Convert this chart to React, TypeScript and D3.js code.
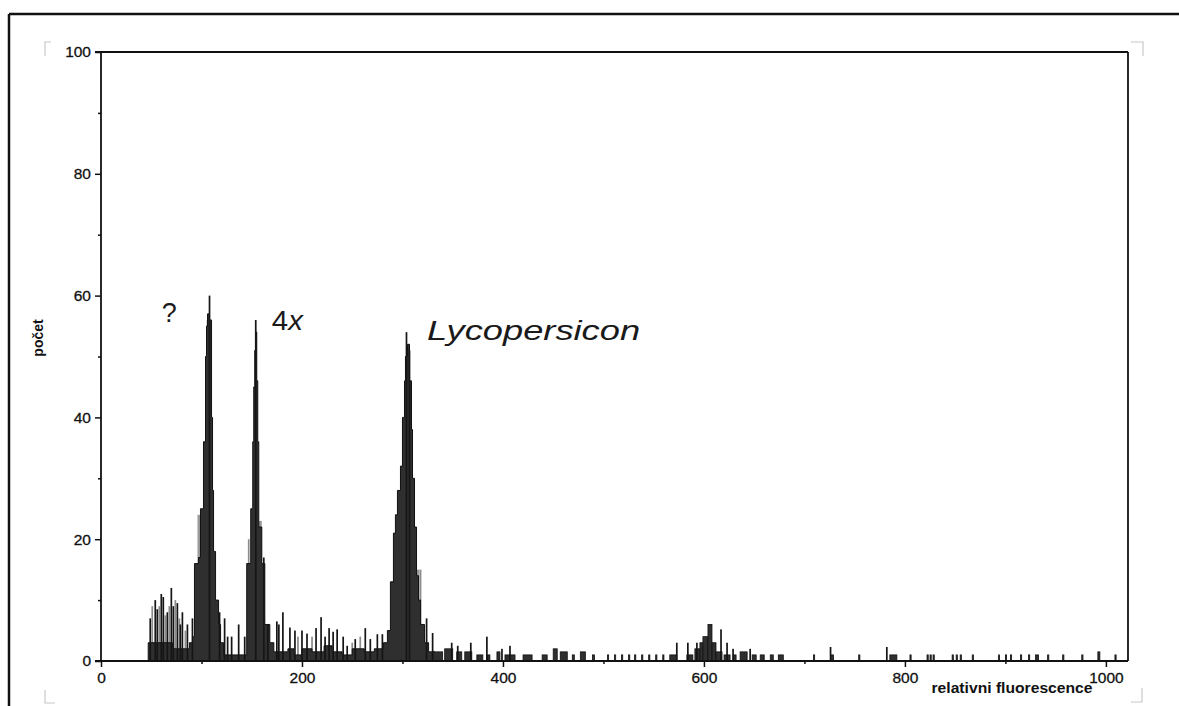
import React, { useEffect, useRef } from "react";
import * as d3 from "d3";

const W = 1179;
const H = 706;
const plot = { left: 101, right: 1128, top: 52, bottom: 661 };

const xTicks = [0, 200, 400, 600, 800, 1000];
const xMinorTicks = [100, 300, 500, 700, 900];
const yTicks = [0, 20, 40, 60, 80, 100];
const yMinorTicks = [10, 30, 50, 70, 90];

// filled histogram outline: [channel where the step starts, count]
const bodySteps: [number, number][] = [
  [47, 3], [71, 2], [88, 3], [91, 4], [93, 16], [97, 17], [99, 25], [102, 36],
  [104, 50], [105, 55], [106, 57], [108, 56], [110, 40], [111, 28], [112, 18],
  [114, 10], [117, 6], [119, 3], [122, 1],
  [145, 16], [149, 25], [151, 36], [152, 45], [153, 51], [154, 54], [155, 46],
  [156, 36], [157, 22], [160, 16], [163, 6], [168, 3], [172, 1.5], [186, 2],
  [192, 1], [200, 2], [210, 1.5], [222, 2.5], [230, 1.5], [240, 1], [250, 2],
  [262, 1.5], [272, 2],
  [281, 3], [285, 5], [288, 13], [291, 21], [293, 24], [295, 28], [298, 32],
  [300, 40], [302, 46], [303, 50], [305, 52], [307, 46], [309, 38], [310, 30],
  [312, 22], [314, 14], [316, 10], [318, 6], [322, 3], [326, 1.5], [332, 0],
];

// low isolated bars: [from channel, to channel, count]
const sparseBars: [number, number, number][] = [
  [330, 340, 1.5], [342, 350, 2], [354, 359, 1.5], [362, 369, 1.5], [374, 380, 1],
  [384, 387, 1], [394, 397, 1.5], [402, 412, 1], [420, 429, 1], [439, 444, 1],
  [450, 454, 2], [457, 464, 1.5], [469, 471, 1], [477, 482, 1.5], [489, 491, 1],
  [504, 505, 1], [511, 512, 1], [518, 519, 1], [525, 526, 1], [531, 532, 1],
  [538, 539, 1], [545, 546, 1], [552, 553, 1], [559, 560, 1], [566, 573, 1],
  [583, 589, 1], [591, 596, 2], [596, 599, 3], [599, 604, 4], [604, 608, 6],
  [608, 612, 3], [612, 618, 1.5], [620, 626, 1], [629, 632, 1], [636, 643, 1.5],
  [648, 652, 1], [656, 660, 1], [666, 669, 1], [674, 679, 1], [709, 710, 1],
  [726, 729, 1], [754, 755, 1], [785, 792, 1], [805, 806, 1], [822, 823, 1],
  [825, 826, 1], [828, 829, 1], [847, 848, 1], [851, 852, 1], [855, 856, 1],
  [867, 868, 1], [893, 894, 1], [900, 901, 1], [905, 906, 1], [915, 916, 1],
  [923, 924, 1], [930, 933, 1], [942, 943, 1], [957, 958, 1], [976, 977, 1],
  [992, 994, 1.5], [1009, 1010, 1],
];

// single channel spikes: [channel, count]
const darkSpikes: [number, number][] = [
  [49, 7], [54, 10], [56, 8.5], [60, 11], [62, 10.5], [66, 8], [70, 12], [72, 9],
  [76, 9.5], [79, 6], [81, 8], [86, 6], [91, 7], [108, 60], [118, 8], [123, 7],
  [126, 4], [130, 4], [137, 6], [143, 4], [154, 56], [162, 17], [166, 6],
  [175, 6.5], [177, 6], [181, 8], [188, 5.5], [193, 5], [200, 5], [205, 4.5],
  [214, 5.4], [219, 7.2], [223, 4], [227, 5.4], [231, 4.8], [235, 5.2], [241, 4],
  [245, 2.5], [253, 3.6], [263, 5.4], [268, 3.6], [275, 4.4], [280, 4.4],
  [304, 54], [307, 51], [324, 7], [330, 4.6], [349, 3], [355, 2.5], [368, 3],
  [384, 4], [399, 2], [407, 2.5], [573, 3], [584, 3], [593, 3], [617, 5.2],
  [623, 3], [629, 2], [646, 2], [726, 2.3], [782, 2.3],
];

const graySpikes: [number, number][] = [
  [51, 9], [58, 9], [64, 7.5], [68, 9], [74, 10], [78, 7], [84, 5], [106, 56],
  [147, 20], [159, 20], [196, 4], [210, 4], [250, 3], [258, 4], [290, 12],
  [292, 18], [318, 15],
];

// lighter shoulders beside the peaks: [from channel, to channel, count]
const grayBars: [number, number, number][] = [
  [96, 99, 24], [157, 160, 23], [314, 317, 15],
];

const x = d3.scaleLinear().domain([0, 1022]).range([plot.left, plot.right]);
const y = d3.scaleLinear().domain([0, 100]).range([plot.bottom, plot.top]);

const font = "'Liberation Sans', Arial, Helvetica, sans-serif";
const dark = "#2f2f2f";

export default function App() {
  const axRef = useRef<SVGGElement>(null);

  useEffect(() => {
    const g = d3.select(axRef.current);
    g.selectAll("*").remove();

    const yAxis = g.append("g").attr("transform", `translate(${plot.left},0)`);
    yAxis.call(
      d3.axisLeft(y).tickValues(yTicks).tickSize(6).tickPadding(4).tickFormat(d3.format("d"))
    );
    yAxis.append("g").call(d3.axisLeft(y).tickValues(yMinorTicks).tickSize(3).tickFormat(() => ""));

    const xAxis = g.append("g").attr("transform", `translate(0,${plot.bottom})`);
    xAxis.call(
      d3.axisBottom(x).tickValues(xTicks).tickSize(6).tickPadding(5).tickFormat(d3.format("d"))
    );
    xAxis.append("g").call(d3.axisBottom(x).tickValues(xMinorTicks).tickSize(3).tickFormat(() => ""));

    g.selectAll(".domain").remove();
    g.selectAll(".tick line").attr("stroke", "#111").attr("stroke-width", 1.5);
    g.selectAll(".tick text")
      .attr("font-family", font)
      .attr("font-size", 15.5)
      .attr("fill", "#111")
      .attr("stroke", "#111")
      .attr("stroke-width", 0.3);
  }, []);

  const area = d3
    .area<[number, number]>()
    .x((d) => x(d[0]))
    .y0(y(0))
    .y1((d) => y(d[1]))
    .curve(d3.curveStepAfter);

  const spikeW = 1.7;

  return (
    <svg
      width={W}
      height={H}
      style={{ position: "absolute", left: 0, top: 0, background: "#fff" }}
    >
      {/* outer page frame */}
      <line x1={9} y1={14} x2={W} y2={14} stroke="#111" strokeWidth={2.5} />
      <line x1={9} y1={14} x2={9} y2={H} stroke="#111" strokeWidth={2.5} />

      {/* crop marks */}
      <g stroke="#c8c8c8" strokeWidth={1.2} fill="none">
        <path d="M45,56 V42 H51" />
        <path d="M1131,42 H1143 V56" />
        <path d="M45,690 V703 H55" />
        <path d="M1131,702 H1142 V688" />
      </g>

      {/* histogram */}
      {grayBars.map((d, i) => (
        <rect
          key={"gb" + i}
          x={x(d[0])}
          y={y(d[2])}
          width={x(d[1]) - x(d[0])}
          height={y(0) - y(d[2])}
          fill="#9a9a9a"
        />
      ))}
      {graySpikes.map((d, i) => (
        <rect
          key={"gs" + i}
          x={x(d[0]) - spikeW / 2}
          y={y(d[1])}
          width={spikeW}
          height={y(0) - y(d[1])}
          fill="#8c8c8c"
        />
      ))}
      <path d={area(bodySteps) ?? ""} fill={dark} stroke="#111" strokeWidth={1} />
      {sparseBars.map((d, i) => (
        <rect
          key={"sb" + i}
          x={x(d[0])}
          y={y(d[2])}
          width={Math.max(1.2, x(d[1]) - x(d[0]))}
          height={y(0) - y(d[2])}
          fill={dark}
          stroke="#111"
          strokeWidth={0.8}
        />
      ))}
      {darkSpikes.map((d, i) => (
        <rect
          key={"ds" + i}
          x={x(d[0]) - spikeW / 2}
          y={y(d[1])}
          width={spikeW}
          height={y(0) - y(d[1])}
          fill="#151515"
        />
      ))}

      {/* plot frame */}
      <g stroke="#111" strokeWidth={1.8} fill="none">
        <line x1={plot.left - 6} y1={plot.top} x2={plot.right} y2={plot.top} />
        <line x1={plot.right} y1={plot.top} x2={plot.right} y2={plot.bottom} />
        <line x1={plot.left} y1={plot.top} x2={plot.left} y2={plot.bottom} />
        <line x1={plot.left - 6} y1={plot.bottom} x2={plot.right} y2={plot.bottom} />
      </g>

      <g ref={axRef} />

      {/* axis titles */}
      <text
        transform={`translate(43,338) rotate(-90)`}
        textAnchor="middle"
        fontFamily={font}
        fontWeight="bold"
        fontSize={14}
        fill="#111"
      >
        počet
      </text>
      <text
        x={1012}
        y={693}
        textAnchor="middle"
        fontFamily={font}
        fontWeight="bold"
        fontSize={15}
        fill="#111"
        textLength={161}
        lengthAdjust="spacingAndGlyphs"
      >
        relativni fluorescence
      </text>

      {/* peak annotations */}
      <g fontFamily={font} fontSize={27} fill="#1a1a1a">
        <text x={x(60.5)} y={y(55.7)}>?</text>
        <text x={x(170)} y={y(54.3)} textLength={31} lengthAdjust="spacingAndGlyphs">
          4<tspan fontStyle="italic">x</tspan>
        </text>
        <text
          x={x(324.5)}
          y={y(52.7)}
          fontStyle="italic"
          fontSize={28}
          textLength={213}
          lengthAdjust="spacingAndGlyphs"
        >
          Lycopersicon
        </text>
      </g>
    </svg>
  );
}
